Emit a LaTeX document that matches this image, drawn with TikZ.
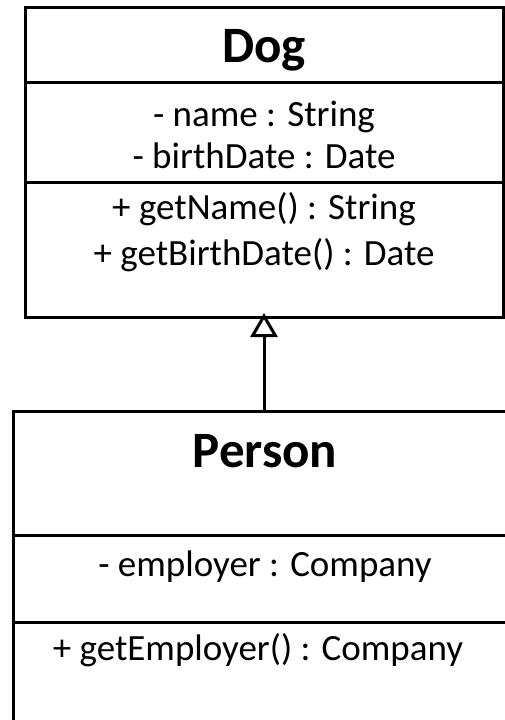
\documentclass[tikz,border=0pt]{standalone}
\usepackage{fontspec}
\setmainfont{Carlito}
\usetikzlibrary{arrows.meta}
\begin{document}
\begin{tikzpicture}[x=1pt, y=-1pt, line width=3pt,
  compartment/.style={draw, rectangle, inner sep=0pt, outer sep=0pt, anchor=north west},
  classname/.style={font=\fontsize{51}{60}\selectfont\bfseries, anchor=base, inner sep=0pt},
  member/.style={font=\fontsize{37}{44}\selectfont, anchor=base, inner sep=0pt},
  inherits/.style={-{Triangle[open, width=27pt, length=24pt]}}]
\clip (0,0) rectangle (505,720);

% class Dog
\node[compartment, minimum width=478pt, minimum height=75pt]  (dogname) at (25,7)   {};
\node[compartment, minimum width=478pt, minimum height=100pt] (dogattr) at (25,82)  {};
\node[compartment, minimum width=478pt, minimum height=135pt] (dogops)  at (25,182) {};
\node[classname] (dogtitle) at (264,62)  {Dog};
\node[member]    (dogname1) at (264,126) {- name : String};
\node[member]    (dogbirth) at (264,168) {- birthDate : Date};
\node[member]    (doggetn)  at (264,219) {+ getName() : String};
\node[member]    (doggetb)  at (264,265) {+ getBirthDate() : Date};

% class Person
\node[compartment, minimum width=502pt, minimum height=124pt] (pname) at (13,411) {};
\node[compartment, minimum width=502pt, minimum height=87pt]  (pattr) at (13,535) {};
\node[compartment, minimum width=502pt, minimum height=150pt] (pops)  at (13,622) {};
\node[classname] (ptitle) at (265,467) {Person};
\node[member]    (pemp)   at (265,576) {- employer : Company};
\node[member]    (pgete)  at (258,660) {+ getEmployer() : Company};

% generalization
\draw[inherits, shorten >=-4pt] (pname.north) -- (dogops.south);
\end{tikzpicture}
\end{document}
